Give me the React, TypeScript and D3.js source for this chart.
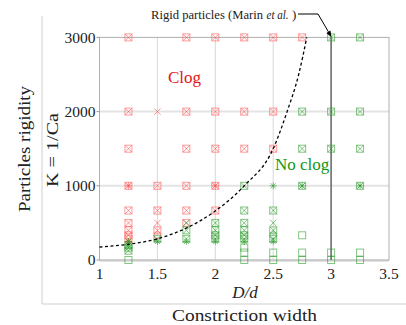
import React from "react";
import * as d3 from "d3";

type P = [number, number];

const xTicks = [1, 1.5, 2, 2.5, 3, 3.5];
const yTicks = [0, 1000, 2000, 3000];
const xGrid = [1.5, 2, 2.5, 3];
const yGrid = [1000, 2000];

const clogBoxX: P[] = [
  [1.25, 3000], [1.75, 3000], [2, 3000], [2.25, 3000], [2.5, 3000], [2.75, 3000],
  [1.25, 2000], [1.75, 2000], [2, 2000], [2.25, 2000], [2.5, 2000],
  [1.25, 1500], [1.75, 1500], [2, 1500], [2.25, 1500], [2.5, 1500],
  [1.25, 1000], [1.5, 1000], [1.75, 1000], [2, 1000],
  [1.25, 667], [1.5, 667], [1.75, 667], [2, 667],
  [1.25, 500], [1.75, 500],
  [1.25, 400], [1.5, 400],
  [1.25, 333], [1.25, 285],
];
const clogCross: P[] = [[1.5, 2000], [1.5, 500], [1.25, 250]];
const clogStar: P[] = [[1.25, 1000], [2, 1000], [1.25, 250]];
const clogCircle: P[] = [[1.5, 333]];

const noClogBoxX: P[] = [
  [3, 3000], [3.25, 3000],
  [2.75, 2000], [3, 2000], [3.25, 2000],
  [2.75, 1500], [3, 1500], [3.25, 1500],
  [2.25, 1000], [2.75, 1000], [3.25, 1000],
  [2.25, 667], [2.5, 667],
  [2, 500], [2.25, 500],
  [1.75, 400], [2, 400], [2.25, 400], [2.5, 400],
  [2, 333], [2.25, 333],
  [1.5, 285], [1.75, 285], [2, 285], [2.25, 285], [2.5, 285],
  [1.25, 200], [1.25, 167], [1.25, 125],
];
const noClogBox: P[] = [
  [2.75, 333], [1.25, 0], [2.25, 0], [2.25, 100], [2.25, 167],
  [2.5, 0], [2.5, 100], [2.75, 0], [2.75, 100], [3, 0], [3, 100], [3.25, 0], [3.25, 100],
];
const noClogCross: P[] = [[1.75, 500], [2.5, 500]];
const noClogStar: P[] = [
  [2.5, 1000], [2.75, 1000], [3.25, 1000],
  [1.25, 250], [1.5, 250], [1.75, 250], [2, 250], [2.25, 250], [2.5, 250], [1.25, 200],
];
const noClogCircle: P[] = [[2.5, 333]];

const transitionCurve: P[] = [
  [1, 175], [1.25, 212], [1.5, 285], [1.75, 430], [2, 660],
  [2.25, 1000], [2.5, 1500], [2.62, 2000], [2.72, 2500], [2.79, 3000],
];

const rigidLimit = 3;

const RED = "rgb(255,70,70)";
const GREEN = "rgb(30,150,30)";
const FONT = "'Liberation Serif', 'DejaVu Serif', serif";

export default function App() {
  const x = d3.scaleLinear().domain([1, 3.5]).range([99.5, 389]);
  const y = d3.scaleLinear().domain([0, 3000]).range([260, 37.4]);
  const h = 3.5;
  const c = 3.2;
  const op = 0.55;

  const box = (pts: P[], col: string, k: string) =>
    pts.map((p, i) => (
      <rect key={k + i} x={x(p[0]) - h} y={y(p[1]) - h} width={2 * h} height={2 * h}
        fill="none" stroke={col} strokeWidth={1} opacity={op} />
    ));
  const cross = (pts: P[], col: string, k: string) =>
    pts.map((p, i) => {
      const cx = x(p[0]), cy = y(p[1]);
      return (
        <path key={k + i} d={`M${cx - c},${cy - c}L${cx + c},${cy + c}M${cx - c},${cy + c}L${cx + c},${cy - c}`}
          stroke={col} strokeWidth={1} opacity={op} fill="none" />
      );
    });
  const star = (pts: P[], col: string, k: string) =>
    pts.map((p, i) => {
      const cx = x(p[0]), cy = y(p[1]);
      const s = 2.6;
      return (
        <path key={k + i}
          d={`M${cx - s},${cy - s}L${cx + s},${cy + s}M${cx - s},${cy + s}L${cx + s},${cy - s}M${cx - 3.5},${cy}L${cx + 3.5},${cy}M${cx},${cy - 3.5}L${cx},${cy + 3.5}`}
          stroke={col} strokeWidth={1} opacity={op} fill="none" />
      );
    });
  const circle = (pts: P[], col: string, k: string) =>
    pts.map((p, i) => (
      <circle key={k + i} cx={x(p[0])} cy={y(p[1])} r={3.5} fill="none" stroke={col} strokeWidth={1} opacity={op} />
    ));

  const line = d3.line<P>().x((d) => x(d[0])).y((d) => y(d[1])).curve(d3.curveMonotoneX);

  const x0 = x(1), x1 = x(3.5), y0 = y(0), y1 = y(3000);
  const xr = x(rigidLimit);

  return (
    <svg width={406} height={325} style={{ position: "absolute", left: 0, top: 0, background: "#fff" }}
      fontFamily={FONT}>
      <defs>
        <marker id="arr" viewBox="0 0 10 10" refX="9" refY="5" markerWidth="6" markerHeight="6" orient="auto">
          <path d="M0,1L10,5L0,9z" fill="#000" />
        </marker>
      </defs>
      <path d="M42,16L42,304L406,304" stroke="#cfcfcf" strokeWidth={1} fill="none" />
      {xGrid.map((v) => (
        <line key={"gx" + v} x1={x(v)} x2={x(v)} y1={y1} y2={y0} stroke="#d8d8d8" strokeWidth={1} />
      ))}
      {yGrid.map((v) => (
        <line key={"gy" + v} x1={x0} x2={x1} y1={y(v)} y2={y(v)} stroke="#e3e3e3" strokeWidth={2} />
      ))}
      <rect x={x0} y={y1} width={x1 - x0} height={y0 - y1} fill="none" stroke="#b0b0b0" strokeWidth={1} />
      <line x1={x0} x2={x1} y1={y0 + 0.5} y2={y0 + 0.5} stroke="#c8c8c8" strokeWidth={2} />
      {yTicks.map((v) => (
        <g key={"yt" + v}>
          <line x1={x0 - 3} x2={x0} y1={y(v)} y2={y(v)} stroke="#999" />
          <text x={95.5} y={y(v)} dy="0.35em" textAnchor="end" fontSize={15.5} fill="#222">{v}</text>
        </g>
      ))}
      {xTicks.map((v) => (
        <text key={"xt" + v} x={x(v)} y={279} textAnchor="middle" fontSize={15.5} fill="#222">{v}</text>
      ))}
      <line x1={xr} x2={xr} y1={y1} y2={y0} stroke="#555" strokeWidth={1.3} />
      {box(clogBoxX, RED, "rb")}
      {cross(clogBoxX, RED, "rbx")}
      {cross(clogCross, RED, "rc")}
      {star(clogStar, RED, "rs")}
      {circle(clogCircle, RED, "ro")}
      {box(noClogBoxX, GREEN, "gb")}
      {cross(noClogBoxX, GREEN, "gbx")}
      {box(noClogBox, GREEN, "gs")}
      {cross(noClogCross, GREEN, "gc")}
      {star(noClogStar, GREEN, "gst")}
      {circle(noClogCircle, GREEN, "go")}
      <path d={line(transitionCurve) || ""} fill="none" stroke="#000" strokeWidth={1.3} strokeDasharray="3,2.5" />
      <text x={168} y={83} fontSize={17} fill="rgb(230,20,20)">Clog</text>
      <text x={275} y={170} fontSize={17} fill="rgb(20,150,20)">No clog</text>
      <text x={151} y={18.5} fontSize={13} fill="#222" textLength={112} lengthAdjust="spacingAndGlyphs">Rigid particles (Marin</text>
      <text x={266.5} y={18.5} fontSize={13} fill="#222" fontStyle="italic" textLength={22} lengthAdjust="spacingAndGlyphs">et al.</text>
      <text x={292} y={18.5} fontSize={13} fill="#222">)</text>
      <path d={`M298,14L318,14L${xr},${y1 - 1}`} fill="none" stroke="#000" strokeWidth={1} markerEnd="url(#arr)" />
      <text x={245} y={298} textAnchor="middle" fontSize={17} fontStyle="italic" fill="#222">D/d</text>
      <text x={244.5} y={320.5} textAnchor="middle" fontSize={17.5} fill="#222" textLength={145} lengthAdjust="spacingAndGlyphs">Constriction width</text>
      <text transform="translate(30,149) rotate(-90)" textAnchor="middle" fontSize={17.5} fill="#222" textLength={126} lengthAdjust="spacingAndGlyphs">Particles rigidity</text>
      <text transform="translate(58,150) rotate(-90)" textAnchor="middle" fontSize={16.5} fill="#222" textLength={74} lengthAdjust="spacingAndGlyphs">K = 1/Ca</text>
    </svg>
  );
}
